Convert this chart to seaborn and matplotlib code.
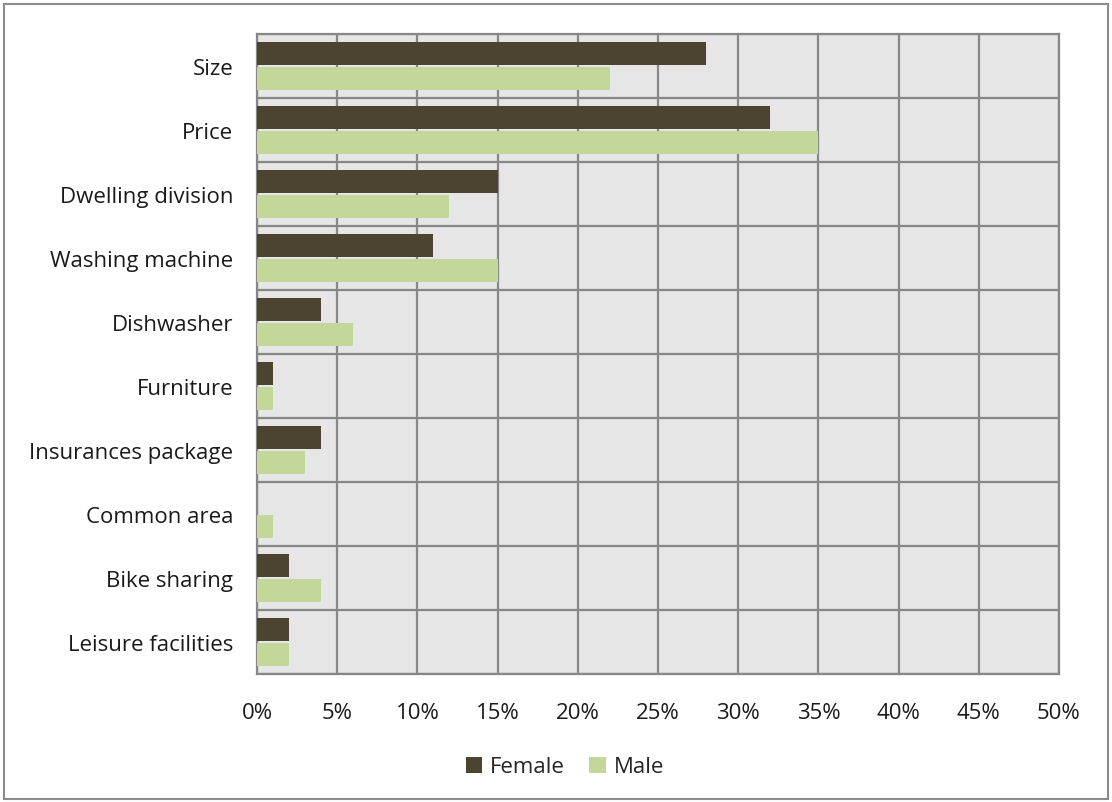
import matplotlib
matplotlib.use("Agg")
import matplotlib.pyplot as plt
import seaborn as sns
import pandas as pd
from matplotlib.patches import Rectangle
from matplotlib.ticker import FuncFormatter, MultipleLocator

categories = ["Size", "Price", "Dwelling division", "Washing machine", "Dishwasher",
              "Furniture", "Insurances package", "Common area", "Bike sharing",
              "Leisure facilities"]
female = [28, 32, 15, 11, 4, 1, 4, 0, 2, 2]
male = [22, 35, 12, 15, 6, 1, 3, 1, 4, 2]
series = ["Female", "Male"]
colors = ["#4a4430", "#c4d79b"]

df = pd.DataFrame({
    "category": categories * 2,
    "value": female + male,
    "gender": ["Female"] * len(categories) + ["Male"] * len(categories),
})

sns.set_theme(style="white")
plt.rcParams['font.family'] = ['Open Sans', 'DejaVu Sans']

fig = plt.figure(figsize=(11.12, 8.03), dpi=100)
ax = fig.add_axes([257 / 1112, 1 - 675 / 803, (1059 - 257) / 1112, (675 - 35) / 803])

sns.barplot(data=df, y="category", x="value", hue="gender", order=categories,
            hue_order=series, palette=colors, orient="h", width=0.78, gap=0.08,
            saturation=1, linewidth=0, ax=ax, zorder=3)

ax.set_facecolor("#e6e6e6")
ax.set_xlim(0, 50)
ax.set_ylim(len(categories) - 0.5, -0.5)
ax.xaxis.set_major_locator(MultipleLocator(5))
ax.xaxis.set_major_formatter(FuncFormatter(lambda v, p: f"{int(round(v))}%"))
ax.set_yticks(range(len(categories)))
ax.set_yticklabels(categories)
ax.set_yticks([i + 0.5 for i in range(-1, len(categories))], minor=True)
ax.grid(True, axis="x", which="major", color="#878787", linewidth=1.6, zorder=1)
ax.grid(True, axis="y", which="minor", color="#878787", linewidth=1.6, zorder=1)
ax.grid(False, axis="y", which="major")
ax.set_axisbelow(True)
for s in ax.spines.values():
    s.set_color("#878787")
    s.set_linewidth(1.6)
ax.tick_params(axis="both", which="both", length=0, labelsize=16, colors="#1a1a1a")
ax.tick_params(axis="y", pad=17)
ax.tick_params(axis="x", pad=20)
ax.set_xlabel("")
ax.set_ylabel("")

leg = ax.legend(loc="center", bbox_to_anchor=(565 / 1112, 1 - 768 / 803),
                bbox_transform=fig.transFigure, ncol=2, frameon=False,
                fontsize=16, handlelength=0.75, handleheight=0.75,
                handletextpad=0.35, columnspacing=1.1)

fig.patches.append(Rectangle((4 / 1112, 3 / 803), 1104 / 1112, 795 / 803,
                             transform=fig.transFigure, fill=False,
                             edgecolor="#8c8c8c", linewidth=1.5))

fig.savefig("out.png", dpi=100)
